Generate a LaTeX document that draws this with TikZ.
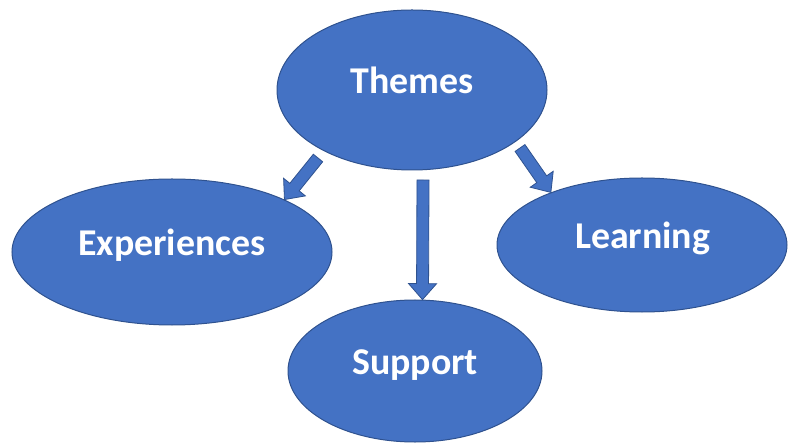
\documentclass[tikz,border=0pt]{standalone}
\usepackage{fontspec}
\setmainfont{Carlito}
\usepackage{tikz}
\usetikzlibrary{shapes.geometric,calc}

\definecolor{themefill}{HTML}{4472C4}
\definecolor{themeedge}{HTML}{2F528F}

% block arrow from tail #1 to tip #2
\newcommand{\blockarrow}[2]{%
	\coordinate (hb) at ($(#2)!16bp!(#1)$);
	\draw[arrowbox] ($(#1)!6bp!90:(#2)$) -- ($(hb)!6bp!90:(#2)$) -- ($(hb)!14bp!90:(#2)$) -- (#2)
		-- ($(hb)!14bp!-90:(#2)$) -- ($(hb)!6bp!-90:(#2)$) -- ($(#1)!6bp!-90:(#2)$) -- cycle;
}

\begin{document}
\begin{tikzpicture}[x=1bp, y=-1bp,
		bubble/.style={ellipse, fill=themefill, draw=themeedge, line width=1bp, inner sep=0pt,
			text=white, font=\bfseries\fontsize{38}{42}\selectfont, text height=0.8em, text depth=0.05em},
		arrowbox/.style={fill=themefill, draw=themeedge, line width=0.8bp, line join=miter}]
		\useasboundingbox (0,0) rectangle (788,443);
		\node[bubble, minimum width=270bp, minimum height=160bp] (themes) at (412,90) {Themes};
		\node[bubble, minimum width=320bp, minimum height=146bp] (exp) at (172,252) {Experiences};
		\node[bubble, minimum width=290bp, minimum height=134bp, text width=134bp, align=right] (learn) at (642,245) {Learning};
		\node[bubble, minimum width=254bp, minimum height=142bp] (supp) at (415,371) {Support};
		\coordinate (t1) at (318,158);
		\coordinate (t2) at (423,180);
		\coordinate (t3) at (520,148);
		\blockarrow{t1}{exp.25}
		\blockarrow{t2}{supp.84}
		\blockarrow{t3}{learn.150.7}
	\end{tikzpicture}
\end{document}
